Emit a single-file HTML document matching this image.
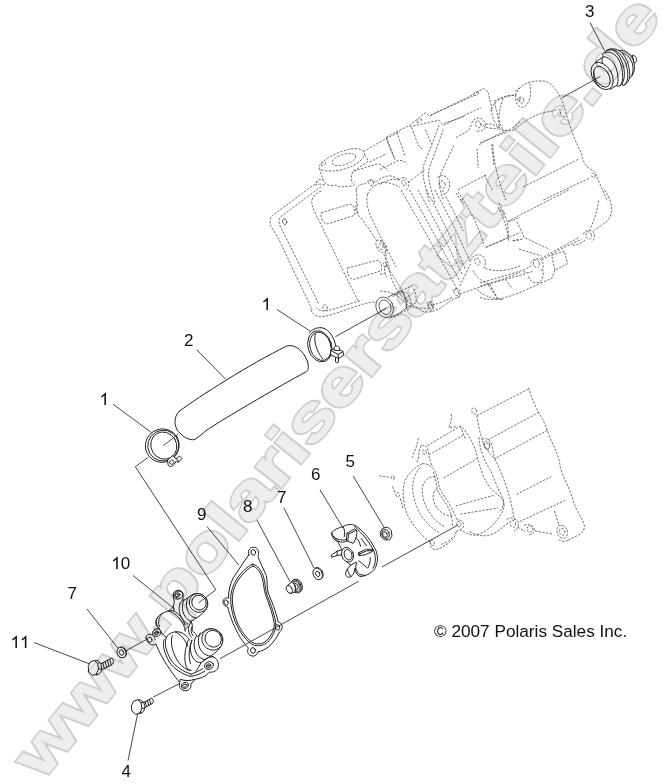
<!DOCTYPE html>
<html><head><meta charset="utf-8"><style>
html,body{margin:0;padding:0;background:#fff;}
svg{display:block;}
text{font-family:"Liberation Sans",sans-serif;}
.lbl{font-size:17px;fill:#111;}
.s{fill:none;stroke:#222;stroke-width:1;stroke-linecap:round;stroke-linejoin:round;}
.sf{fill:#fff;stroke:#222;stroke-width:1;stroke-linecap:round;stroke-linejoin:round;}
.ld{fill:none;stroke:#333;stroke-width:0.9;}
.d{fill:none;stroke:#444;stroke-width:0.75;stroke-dasharray:2.4 1.3;stroke-linecap:butt;stroke-linejoin:round;}
.s,.sf,.d,.t{vector-effect:non-scaling-stroke;}
g.z *{vector-effect:non-scaling-stroke;}
.t{fill:none;stroke:#333;stroke-width:0.8;stroke-linecap:round;stroke-linejoin:round;}
.tf{fill:#fff;stroke:#333;stroke-width:0.8;stroke-linecap:round;stroke-linejoin:round;vector-effect:non-scaling-stroke;}
</style></head>
<body>
<svg width="664" height="784" viewBox="0 0 664 784">
<defs>
<mask id="m1" maskUnits="userSpaceOnUse" x="0" y="0" width="664" height="784">
<g transform="translate(42.2,781.6) rotate(-50.9) scale(1.302,1)"><text x="0" y="0" font-size="62" font-weight="bold" fill="#fff" stroke="#fff" stroke-width="3.6" stroke-linejoin="miter">www.polarisersatzteile.de</text></g>
</mask>
<mask id="m2" maskUnits="userSpaceOnUse" x="0" y="0" width="664" height="784">
<g transform="translate(42.2,781.6) rotate(-50.9) scale(1.302,1)"><text x="0" y="0" font-size="62" font-weight="bold" fill="#fff" stroke="#fff" stroke-width="0.4" stroke-linejoin="miter">www.polarisersatzteile.de</text></g>
</mask>
<path id="one" d="M4.9,0 V-9.5 C4,-8.6 3,-8 1.8,-7.5 V-9 C3.6,-9.8 4.8,-10.9 5.4,-12.2 H6.45 V0 Z"/>
</defs>
<rect width="664" height="784" fill="#fff"/>
<!-- WATERMARK -->
<!-- ENGINE (dashed) -->
<g id="engine-top">
<!-- A: origin (260,130) scale 4.743 -->
<g class="z" transform="translate(260,130) scale(0.21084)">
<path class="d" d="M275,245 L60,405 C45,415 45,440 52,458 C65,478 75,490 100,540 L165,680 L248,853"/>
<path class="d" d="M290,268 L100,410 C88,420 88,440 95,455 L200,664 L280,828"/>
<ellipse class="d" cx="117" cy="434" rx="9" ry="13" transform="rotate(-20 117 434)"/>
<path class="d" d="M290,290 C270,295 250,315 245,335 C245,360 255,385 290,450 L395,670 L466,812"/>
<path class="d" d="M290,392 L425,352 C445,350 455,385 448,405 L322,445 C300,448 285,415 290,392 Z"/>
<path class="d" d="M415,655 L555,618 C575,618 582,650 575,668 L445,708 C425,710 410,680 415,655 Z"/>
<!-- pipe boss -->
<path class="d" d="M280,172 C300,140 360,105 430,90 C460,85 490,90 495,110 C498,130 470,155 440,170 C400,190 340,200 300,192 C285,188 278,182 280,172 Z"/>
<ellipse class="d" cx="398" cy="140" rx="58" ry="24" transform="rotate(-17 398 140)"/>
<ellipse class="d" cx="300" cy="160" rx="12" ry="7" transform="rotate(-25 300 160)"/>
<path class="d" d="M282,182 L300,240 C310,258 330,268 355,262 C365,262 370,270 385,270 L440,265 C448,262 452,255 450,248"/>
<path class="d" d="M496,118 C505,130 512,140 512,150 L445,195 C432,205 430,225 438,255"/>
<path class="d" d="M265,250 C270,238 285,230 300,235 M262,262 C275,255 295,255 310,262"/>
<path class="d" d="M490,102 L600,40 L664,8"/>
<path class="d" d="M520,152 L600,112 M445,195 L560,160 C580,165 595,180 610,195"/>
<path class="d" d="M600,40 C605,60 615,85 628,110 L640,140"/>
<!-- middle gasket -->
<path class="d" d="M455,285 C460,265 475,255 500,255 C510,235 540,230 548,250 C560,235 590,215 620,218 C640,222 655,232 664,236"/>
<ellipse class="d" cx="527" cy="250" rx="11" ry="14" transform="rotate(-20 527 250)"/>
<path class="d" d="M455,285 C462,310 460,340 455,365 C452,385 465,405 482,422 C510,460 540,500 552,525 C545,545 555,575 580,580 C595,600 605,625 612,645"/>
<path class="d" d="M465,350 C455,365 458,385 470,398"/>
<ellipse class="d" cx="573" cy="553" rx="11" ry="14" transform="rotate(-20 573 553)"/>
<path class="d" d="M510,305 C520,280 545,258 575,250 C605,245 640,258 664,272"/>
<path class="d" d="M510,305 C502,335 510,380 530,420 C560,485 600,560 645,650"/>
<path class="d" d="M552,525 C565,515 590,530 600,555 C605,570 600,580 590,585"/>
</g>
<!-- B: origin (380,60) scale 4.743 -->
<g class="z" transform="translate(380,60) scale(0.21084)">
<path class="d" d="M30,365 L140,310 L215,250 L235,265 L440,165 L490,135 L512,150 L530,225 L520,242"/>
<path class="d" d="M140,316 L280,286 L300,310 L480,225"/>
<path class="d" stroke-dasharray="1 1" d="M305,300 L400,268 M240,262 L440,172"/>
<ellipse class="d" cx="185" cy="288" rx="14" ry="6" transform="rotate(-25 185 288)"/>
<ellipse class="d" cx="455" cy="160" rx="14" ry="7" transform="rotate(-25 455 160)"/>
<path class="d" d="M0,520 L75,482 C90,472 110,475 130,492"/>
<path class="d" d="M30,365 L70,470 M80,342 L118,455 M150,320 L180,400 C185,412 195,420 205,422"/>
<path class="d" d="M215,330 L245,400"/>
<path class="d" d="M280,310 C265,350 235,430 212,485 C198,520 205,560 215,600 L235,680"/>
<path class="d" d="M300,330 C285,370 258,450 238,500 C224,535 232,575 242,612 L262,680"/>
<path class="d" d="M350,405 C335,440 305,500 288,540 C272,575 285,620 300,660"/>
<ellipse class="d" cx="296" cy="590" rx="13" ry="18" transform="rotate(-20 296 590)"/>
<path class="d" d="M272,560 C285,540 315,545 328,575 C335,600 325,625 310,632"/>
<ellipse class="d" cx="113" cy="583" rx="9" ry="14" transform="rotate(-20 113 583)"/>
<path class="d" d="M90,570 C100,550 125,555 135,578 C140,595 135,610 125,615"/>
<path class="d" d="M0,590 C30,570 60,560 90,570 M135,580 C160,560 190,540 212,520"/>
<ellipse class="d" cx="466" cy="305" rx="12" ry="17" transform="rotate(-20 466 305)"/>
<path class="d" d="M435,300 C440,280 465,268 485,280 C500,290 505,312 495,328 C485,338 465,340 452,335"/>
<path class="d" d="M360,368 L420,335 L436,305"/>
<path class="d" d="M500,305 C520,300 545,305 560,322 C575,340 605,345 630,320 L664,292"/>
<path class="d" d="M540,195 L600,170 L645,165 M545,200 C550,240 562,290 580,325 M640,150 L664,130"/>
<path class="d" d="M470,402 L560,352 L595,340"/>
<path class="d" stroke-dasharray="5 2" d="M460,420 L466,512 M530,400 L540,500"/>
<path class="d" d="M370,615 L510,542 M360,630 L395,680"/>
<ellipse class="d" cx="658" cy="186" rx="7" ry="9"/>
</g>
<!-- C: origin (480,60) scale 4.743 -->
<g class="z" transform="translate(480,60) scale(0.21084)">
<path class="d" d="M55,235 C58,215 75,195 100,182 C125,172 150,170 170,165 C175,145 200,115 235,105 C265,98 295,98 315,102 C345,115 370,150 392,200 C405,240 418,290 435,335 C450,380 470,420 482,445 C485,470 495,495 512,510 C530,520 548,528 552,550 L605,670"/>
<ellipse class="d" cx="196" cy="190" rx="11" ry="15" transform="rotate(-20 196 190)"/>
<path class="d" d="M170,165 C165,190 172,212 195,225 C215,225 232,205 238,175 C242,150 240,125 235,105"/>
<path class="d" d="M165,330 C200,295 250,265 300,250 C330,243 355,243 372,232"/>
<path class="d" d="M372,232 C385,240 385,255 376,264 C388,262 400,268 402,280 C408,288 415,292 420,292"/>
<path class="d" d="M55,235 C55,270 70,305 95,322 C120,340 145,338 165,330"/>
<path class="d" d="M0,300 C20,320 50,330 90,322 M0,392 L130,342"/>
<path class="d" stroke-dasharray="5 2" d="M60,400 C62,460 80,560 125,670"/>
<path class="d" d="M20,545 L62,622"/>
<path class="d" d="M205,602 L468,470 M300,664 L520,560"/>
<ellipse class="d" cx="538" cy="548" rx="8" ry="10" transform="rotate(-20 538 548)"/>
<path class="d" d="M110,182 C95,220 85,270 92,318"/>
</g>
<!-- D: origin (380,190) scale 4.743 -->
<g class="z" transform="translate(380,190) scale(0.21084)">
<path class="d" d="M100,0 C140,70 210,190 270,300 C310,370 345,430 365,470"/>
<path class="d" d="M140,0 C180,70 245,185 300,290 C335,355 362,400 380,435"/>
<path class="d" d="M180,0 C220,70 280,180 330,280 C355,330 375,370 390,400"/>
<path class="d" d="M220,0 C255,65 310,170 355,265 C375,305 395,350 405,380"/>
<path class="d" d="M260,0 C290,55 335,140 375,225 C400,280 420,320 430,345"/>
<path class="d" d="M295,0 C320,45 360,120 395,195"/>
<path class="d" d="M370,10 C400,50 440,120 465,180 C480,215 488,245 492,265"/>
<path class="d" d="M0,480 C30,478 60,488 85,505 C105,520 120,535 135,548 C160,560 200,560 225,562"/>
<path class="d" d="M250,545 C275,540 310,525 345,508 M378,492 C420,478 480,460 530,440 C580,425 630,405 664,390"/>
<ellipse class="d" cx="238" cy="548" rx="10" ry="14" transform="rotate(-20 238 548)"/>
<path class="d" d="M222,540 C228,525 250,525 255,545 C258,560 250,570 240,572"/>
<ellipse class="d" cx="362" cy="486" rx="10" ry="15" transform="rotate(-20 362 486)"/>
<path class="d" d="M345,480 C350,462 375,462 380,485 C382,500 375,510 365,512"/>
<ellipse class="d" cx="462" cy="340" rx="12" ry="17" transform="rotate(-20 462 340)"/>
<path class="d" d="M430,335 C435,312 465,300 485,312 C502,325 505,350 492,372"/>
<path class="d" d="M500,372 C530,385 580,385 620,375 L664,360"/>
<path class="d" d="M430,350 C415,380 395,420 380,455 M440,382 C455,410 480,435 520,446"/>
<path class="d" d="M520,446 L562,522 M460,470 C480,495 520,515 585,520"/>
<path class="d" d="M560,80 C580,120 602,170 610,240 M612,150 L664,130 M500,272 L600,230 L664,202 M630,242 L664,236"/>
<path class="d" d="M0,240 C20,255 30,285 28,320 C25,345 35,370 58,400 C85,440 110,490 132,525"/>
<ellipse class="d" cx="24" cy="355" rx="8" ry="12" transform="rotate(-20 24 355)"/>
<path class="d" d="M0,400 L22,396"/>
<!-- outlet pipe stub -->
<ellipse class="t" cx="22" cy="556" rx="40" ry="50" transform="rotate(-25 22 556)"/>
<ellipse class="t" cx="24" cy="556" rx="27" ry="36" transform="rotate(-25 24 556)"/>
<path class="t" d="M38,508 L100,478 M52,602 C80,592 105,578 125,560"/>
<path class="t" d="M100,478 C118,498 128,530 125,560"/>
<path class="d" d="M100,478 L150,455 C168,475 175,510 170,535 L125,560"/>
</g>
<!-- F: origin (260,220) scale 3.32 -->
<g class="z" transform="translate(260,220) scale(0.3012)">
<path class="d" d="M168,298 C175,315 190,325 215,320 C250,312 300,292 340,280 C360,274 375,272 388,272"/>
<path class="d" d="M185,290 C195,302 210,305 230,300 C265,290 305,275 335,268"/>
<ellipse class="d" cx="216" cy="291" rx="7" ry="10" transform="rotate(-20 216 291)"/>
<ellipse class="d" cx="82" cy="6" rx="7" ry="10" transform="rotate(-20 82 6)"/>
<path class="d" d="M428,155 C430,185 448,228 468,250"/>
<path class="d" d="M418,150 C410,160 412,178 422,190"/>
<path class="d" d="M468,250 C490,270 520,295 545,305 C575,310 605,290 630,270 L664,252"/>
<ellipse class="d" cx="566" cy="290" rx="8" ry="11" transform="rotate(-20 566 290)"/>
<path class="d" d="M440,255 C455,245 470,240 485,240 M432,325 C455,318 480,305 500,292"/>
<path class="d" d="M485,240 C500,255 505,275 500,292"/>
</g>
<!-- E: origin (480,190) scale 4.743 -->
<g class="z" transform="translate(480,190) scale(0.21084)">
<path class="d" d="M130,150 L420,0"/>
<path class="d" d="M90,60 L130,150 L136,222"/>
<path class="d" d="M30,272 L136,225"/>
<path class="d" d="M590,0 C610,25 625,60 625,100 C620,130 605,150 580,165 C560,178 545,185 538,195"/>
<ellipse class="d" cx="516" cy="215" rx="13" ry="18" transform="rotate(-20 516 215)"/>
<path class="d" d="M490,210 C495,190 525,185 538,200 C548,215 545,235 530,245"/>
<path class="d" d="M440,262 C460,262 485,250 498,238"/>
<path class="d" d="M562,50 C558,90 545,140 520,188"/>
<path class="d" d="M0,440 C60,425 140,400 205,380 C225,372 240,362 250,352"/>
<path class="d" d="M0,456 C60,440 150,415 222,396 M292,332 L400,272 L482,234"/>
<path class="d" d="M288,325 L470,225"/>
<ellipse class="d" cx="268" cy="350" rx="14" ry="19" transform="rotate(-20 268 350)"/>
<path class="d" d="M240,348 C245,325 280,318 295,338 C305,355 300,378 285,385"/>
<path class="d" d="M175,150 L210,225 L330,282 M155,240 L206,232 M185,280 L290,312"/>
<path class="d" d="M340,310 L400,290 L415,350 L355,380 Z M355,380 L340,420 L290,440"/>
<path class="d" d="M230,410 C235,432 255,445 280,438 C298,428 305,400 296,372"/>
<path class="d" d="M205,385 C215,395 235,395 250,385"/>
<path class="d" d="M0,510 C30,520 60,522 85,518 C120,512 160,498 200,482 C235,466 265,452 290,440"/>
<path class="d" d="M40,450 L82,515 M120,425 L152,466"/>
</g>
</g>
<g id="engine-bot">
<!-- zoom origin (370,390) scale 3.32 -->
<g class="z" transform="translate(370,390) scale(0.3012)">
<!-- pump cavity face (moved to separate group) -->
<ellipse class="d" cx="181" cy="206" rx="6" ry="8" transform="rotate(-20 181 206)"/>
<path class="d" d="M170,185 C160,200 165,225 155,240 M170,185 C185,180 195,195 195,215 C198,232 203,245 208,255"/>
<!-- left block -->
<path class="d" d="M190,185 L300,120 C320,135 340,170 352,205 C362,245 372,285 395,320 C415,345 440,355 445,375 C447,400 430,420 415,440 C400,460 370,480 345,482 C325,480 310,470 300,465"/>
<path class="d" d="M196,215 L310,150"/>
<path class="d" d="M245,292 L355,228"/>
<path class="d" d="M285,385 L410,350"/>
<path class="d" d="M300,412 L425,392"/>
<path class="d" d="M300,120 C305,135 312,150 318,165"/>
<path class="d" d="M270,80 C272,95 268,110 262,125 L285,122"/>
<path class="d" d="M160,160 C158,180 150,200 140,225"/>
<path class="d" d="M30,285 L68,290"/>
<ellipse class="d" cx="76" cy="291" rx="5" ry="6"/>
<path class="d" d="M75,320 C78,330 82,340 85,345"/>
<ellipse class="d" cx="92" cy="348" rx="6" ry="7"/>
<path class="d" d="M100,360 C105,375 108,385 110,395"/>
<!-- right block left edge -->
<path class="d" d="M355,85 C358,110 365,140 372,165 C380,195 400,210 418,235 C435,270 450,310 462,350 C470,380 475,410 480,432"/>
<ellipse class="d" cx="346" cy="70" rx="8" ry="11" transform="rotate(-20 346 70)"/>
<ellipse class="d" cx="388" cy="187" rx="8" ry="12" transform="rotate(-20 388 187)"/>
<path class="d" d="M372,165 C385,155 400,165 405,185 C408,200 410,215 418,235"/>
<path class="d" d="M355,85 L530,-5"/>
<path class="d" d="M392,165 L565,72"/>
<path class="d" d="M420,225 L592,132"/>
<path class="d" d="M330,470 C355,485 385,490 415,475 C430,465 445,450 462,440"/>
<ellipse class="d" cx="474" cy="444" rx="9" ry="12" transform="rotate(-20 474 444)"/>
<ellipse class="d" cx="531" cy="462" rx="9" ry="11" transform="rotate(-20 531 462)"/>
<path class="d" d="M455,430 C465,420 485,425 492,440 C495,455 488,465 478,468"/>
<path class="d" d="M512,450 C525,442 545,450 546,465 C545,478 535,482 525,480"/>
<path class="d" d="M490,455 L515,470 M548,468 L605,478"/>
</g>
<!-- pump cavity: origin (390,460) scale 6.64 -->
<g class="z" transform="translate(390,460) scale(0.1506)">
<path class="d" d="M215,25 C175,40 130,80 100,135 C82,190 85,260 100,320 C120,390 170,460 235,520 C250,532 262,540 270,545"/>
<path class="d" d="M215,25 C240,22 265,32 290,60 C310,90 320,140 328,185 C345,220 380,265 408,318 C425,350 438,380 446,402"/>
<path class="d" d="M288,80 C300,110 308,160 315,200 C335,235 368,280 393,328 C408,360 415,395 415,440"/>
<path class="d" d="M200,50 C168,85 150,130 150,185 C152,250 175,320 215,380 C245,420 285,460 325,482"/>
<path class="d" d="M300,110 C260,108 225,135 215,180 C210,230 225,290 255,340 C285,385 325,425 362,442"/>
<path class="d" d="M312,190 C288,205 280,240 292,280 C305,320 340,355 385,370 C400,372 410,370 416,365"/>
<path class="d" d="M270,545 C262,570 275,592 300,596 C330,592 370,565 400,545 C418,530 432,512 440,472"/>
<path class="d" d="M440,472 C460,470 485,460 490,435 C490,412 470,395 446,398"/>
<ellipse class="d" cx="281" cy="550" rx="13" ry="19" transform="rotate(-25 281 550)"/>
<ellipse class="d" cx="457" cy="426" rx="13" ry="19" transform="rotate(-25 457 426)"/>
<path class="d" d="M340,560 C365,555 395,535 415,515"/>
</g>
<!-- zoom origin (464,380) scale 3.32 -->
<g class="z" transform="translate(464,380) scale(0.3012)">
<path class="d" d="M215,25 C220,50 235,85 255,120 C270,145 275,165 285,190 C300,225 315,250 320,290 C330,330 355,365 362,400 C370,430 392,455 400,485 C400,500 390,510 380,515 L345,532"/>
<path class="d" d="M175,380 L290,320"/>
<path class="d" d="M185,470 L335,400"/>
<path class="d" d="M300,435 C305,450 312,470 316,485"/>
<path class="d" d="M50,190 C50,225 65,265 88,300 C100,330 115,365 130,395 C135,410 130,425 115,440"/>
<ellipse class="d" cx="326" cy="504" rx="17" ry="22" transform="rotate(-20 326 504)"/>
<ellipse class="d" cx="326" cy="504" rx="9" ry="12" transform="rotate(-20 326 504)"/>
<path class="d" d="M345,532 C335,540 320,535 312,528"/>
<ellipse class="d" cx="76" cy="216" rx="9" ry="13" transform="rotate(-20 76 216)"/>
</g>
</g>
<!-- PARTS -->
<g id="parts">
<!-- hose 2 -->
<path class="sf" d="M179.7,410.9 C200,396 250,364 286.6,346.1 C296,343.5 304,352 307.7,362 C309,368 308,371 306.2,371.7 C280,386 235,412 208.3,429 C203,433 199,437 194.8,439.5 C189,441 181,436 176.7,429 C173.5,422 175,415 179.7,410.9 Z"/>
<!-- left clamp -->
<g id="clampL">
<ellipse class="s" cx="162.3" cy="445.6" rx="17" ry="16.6" transform="rotate(-30 162.3 445.6)"/>
<ellipse class="s" cx="163.3" cy="445.6" rx="15.6" ry="15.4" transform="rotate(-30 163.3 445.6)"/>
<ellipse class="s" cx="163.8" cy="445.6" rx="12.8" ry="13.9" transform="rotate(-30 163.8 445.6)"/>
<path class="sf" d="M168,459.5 L173,455.5 L176,459 L179.5,456 L182,458.5 L178,462.5 L176.5,461 L174,464.5 C172,467.5 168.5,467 168,464.5 Z"/>
<path class="s" d="M170,461.5 C171,459.5 173.5,459.5 174,461.5 C174,464 171,465.5 170,463.5 Z"/>
<path class="s" d="M176.3,458.2 L178.6,461.8"/>
</g>
<!-- right clamp -->
<g id="clampR">
<path class="s" d="M309.5,332.5 C313,328.5 318,327 323,328 C329,329.5 334,337 335.8,346"/>
<ellipse class="s" cx="319.8" cy="346.3" rx="11.8" ry="15.9" transform="rotate(-17 319.8 346.3)"/>
<ellipse class="s" cx="320.4" cy="346.3" rx="10.4" ry="14.5" transform="rotate(-17 320.4 346.3)"/>
<path class="s" d="M315.3,334 C313.8,340 315.5,350 322.7,358.8"/>
<path class="sf" d="M331,350.5 L336,347.5 L343,351.5 L343.5,355.5 L338.5,358.5 L331,355 Z"/>
<path class="s" d="M331,350.5 L338,354.5 L343,351.5 M338,354.5 L338.5,358.5"/>
<path class="sf" d="M334,347.5 C334,345.5 339,345.5 339.5,347.8 L339.5,350.5 L334.5,350.3 Z"/>
<path class="s" d="M335.5,358 L335.5,362 C336.5,363 338,363 338.5,362 L338.5,358.5"/>
</g>

<!-- housing 10 : coords from zoom origin (140,580) scale 6.64 -->
<g id="housing" class="z" transform="translate(140,580) scale(0.1506)">
<!-- flange silhouette -->
<path class="sf" d="M40,385 C35,360 70,355 85,365 C80,340 95,320 130,325 C95,290 100,255 140,225 C170,210 200,200 225,205 L222,175 L228,150 L222,112 C215,80 260,60 282,85 C290,95 288,120 282,135 L300,130 L335,105 C370,75 440,90 450,150 C452,190 430,215 385,245 L340,275 C350,300 350,320 345,335 C360,345 370,360 380,375 L420,345 C450,305 540,320 550,390 C552,430 530,460 490,490 L470,505 C500,510 525,535 520,575 C515,600 490,615 460,612 C440,640 400,655 350,662 L330,690 L270,690 C230,640 170,560 130,480 L105,425 C85,440 50,430 40,385 Z"/>
<!-- upper lug -->
<ellipse class="s" cx="252" cy="97" rx="33" ry="29" transform="rotate(-20 252 97)"/>
<ellipse class="s" cx="248" cy="100" rx="18" ry="15" transform="rotate(-20 248 100)"/>
<ellipse class="s" cx="245" cy="102" rx="10" ry="8.5" transform="rotate(-20 245 102)"/>
<path class="s" d="M222,175 C215,185 205,190 195,203 M282,135 C278,145 272,150 262,158"/>
<!-- upper tube -->
<path class="s" d="M318,118 C300,150 308,200 330,228 C345,245 360,252 375,252"/>
<path class="s" d="M292,135 C274,165 280,215 300,243 C312,260 328,272 340,275"/>
<path class="s" d="M268,152 C254,180 258,225 280,255 C292,272 305,285 318,292"/>
<ellipse class="sf" cx="388" cy="152" rx="60" ry="64" transform="rotate(-35 388 152)"/>
<ellipse class="s" cx="392" cy="150" rx="47" ry="50" transform="rotate(-35 392 150)"/>
<!-- left cylinder body -->
<path class="s" d="M130,325 C100,300 95,270 125,240"/>
<path class="s" d="M190,205 C225,215 262,245 285,290 C295,310 300,325 300,340"/>
<path class="s" d="M225,205 C255,220 285,255 300,300"/>
<path class="s" d="M150,222 C125,245 115,280 130,310"/>
<path class="s" d="M340,275 L328,301 L297,331 M325,307 C318,325 322,355 340,379 M343,313 C336,330 338,352 352,370"/>
<!-- left lug hole and washer-lug -->
<ellipse class="sf" cx="112" cy="350" rx="28" ry="24" transform="rotate(-25 112 350)"/>
<ellipse class="s" cx="110" cy="352" rx="15" ry="12" transform="rotate(-25 110 352)"/>
<ellipse class="s" cx="108" cy="353" rx="8" ry="6.5" transform="rotate(-25 108 353)"/>
<ellipse class="s" cx="65" cy="397" rx="14" ry="17" transform="rotate(-25 65 397)"/>
<path class="s" d="M85,365 C95,375 100,385 100,395 M140,345 C150,360 160,370 175,380"/>
<!-- volute body -->
<path class="s" d="M175,380 C190,355 225,338 260,345 C290,352 315,375 330,400"/>
<path class="s" d="M175,380 C160,415 170,470 205,530 C235,575 285,608 340,625"/>
<path class="s" d="M160,395 C148,430 160,485 195,545 C225,590 280,625 335,640"/>
<path class="s" d="M215,370 C200,405 210,465 245,530 C270,570 300,592 330,600"/>
<path class="s" d="M235,345 C270,360 300,395 318,440"/>
<path class="s" d="M320,400 C300,450 290,520 305,570 C312,590 325,600 340,600"/>
<path class="s" d="M345,400 C325,450 320,510 335,555"/>
<!-- lower tube -->
<path class="s" d="M400,352 C378,390 385,450 415,480 C430,495 450,505 465,505"/>
<path class="s" d="M372,375 C350,415 358,475 388,505 C403,520 420,528 435,528"/>
<path class="s" d="M345,400 C325,440 333,500 362,530 C375,545 390,550 405,548"/>
<path class="s" d="M435,528 L470,505 M405,548 L435,528"/>
<ellipse class="sf" cx="480" cy="395" rx="68" ry="73" transform="rotate(-35 480 395)"/>
<ellipse class="s" cx="486" cy="390" rx="53" ry="57" transform="rotate(-35 486 390)"/>
<!-- right-bottom lug -->
<path class="s" d="M405,548 C395,570 385,590 370,605 M420,535 C440,520 465,505 490,512"/>
<ellipse class="s" cx="458" cy="568" rx="30" ry="25" transform="rotate(-25 458 568)"/>
<ellipse class="s" cx="455" cy="570" rx="16" ry="13" transform="rotate(-25 455 570)"/>
<ellipse class="s" cx="453" cy="571" rx="9" ry="7" transform="rotate(-25 453 571)"/>
<path class="s" d="M340,625 C365,615 390,605 415,590 M335,640 C370,635 400,625 430,605"/>
<!-- bottom lug -->
<ellipse class="s" cx="296" cy="694" rx="30" ry="25" transform="rotate(-25 296 694)"/>
<ellipse class="s" cx="293" cy="696" rx="16" ry="13" transform="rotate(-25 293 696)"/>
<path class="sf" d="M262,690 C255,715 275,735 305,735 C335,730 345,705 335,690 C350,680 360,670 365,660 C340,668 300,672 270,660 Z"/>
<ellipse class="s" cx="298" cy="700" rx="24" ry="20" transform="rotate(-25 298 700)"/>
<ellipse class="s" cx="296" cy="702" rx="13" ry="10" transform="rotate(-25 296 702)"/>
</g>
<!-- gasket 9 : zoom origin (200,530) scale 6.036 -->
<g id="gasket" class="z" transform="translate(200,530) scale(0.16567)">
<path class="sf" d="M295,150 C285,120 305,100 330,105 C352,110 358,135 350,160 C360,190 385,240 400,275 C408,310 402,345 412,380 C430,425 455,480 472,555 C500,560 505,600 480,615 C465,650 440,680 415,705 C395,720 375,730 350,735 C345,760 320,768 300,755 C285,745 285,725 292,712 C260,680 225,625 200,565 C185,525 172,490 168,465 C140,460 130,430 148,415 C158,408 165,408 172,412 C172,370 180,330 200,290 C230,245 265,190 295,150 Z"/>
<path class="s" d="M320,218 C345,225 365,255 375,290 C385,325 385,355 395,390 C410,430 435,490 448,560 C452,600 430,640 400,670 C380,685 355,692 330,685 C290,670 245,610 220,545 C205,505 195,460 195,410 C198,350 225,300 270,255 C290,235 305,222 320,218 Z"/>
<path class="s" d="M318,206 C348,212 372,245 384,285 C394,322 393,352 403,387 C418,428 444,488 457,558 C461,603 438,648 406,679 C384,696 355,703 328,696 C284,680 237,616 211,549 C195,508 185,460 185,410 C188,346 216,294 262,247 C283,226 302,210 318,206 Z"/>
<ellipse class="s" cx="322" cy="135" rx="14" ry="17" transform="rotate(-20 322 135)"/>
<ellipse class="s" cx="158" cy="438" rx="12" ry="16" transform="rotate(-20 158 438)"/>
<ellipse class="s" cx="468" cy="588" rx="13" ry="17" transform="rotate(-20 468 588)"/>
<ellipse class="s" cx="320" cy="727" rx="15" ry="17" transform="rotate(-20 320 727)"/>
</g>

<!-- bolts 11, 4 and washer 7: zoom origin (80,630) scale 7.378 -->
<g id="bolts" class="z" transform="translate(80,630) scale(0.13554)">
<!-- bolt 11 -->
<path class="sf" d="M150,252 L232,208 C245,205 252,240 240,252 L160,296 Z"/>
<path class="s" d="M168,243 L181,286 M185,234 L198,277 M202,225 L215,268 M219,216 L231,258"/>
<path class="sf" d="M105,225 C135,215 160,245 160,280 C160,310 145,330 120,332 Z"/>
<path class="sf" d="M62,268 L75,236 L105,225 L130,246 L136,290 L121,325 L90,336 L66,312 Z"/>
<path class="s" d="M130,246 L146,240 M136,290 L158,285 M121,325 L135,328"/>
<!-- bolt 4 -->
<path class="sf" d="M462,540 L526,504 C540,502 546,530 536,540 L472,577 Z"/>
<path class="s" d="M480,530 L492,566 M496,521 L508,557 M512,512 L523,548"/>
<path class="sf" d="M425,515 C455,508 478,535 478,570 C478,598 462,612 440,614 Z"/>
<path class="sf" d="M380,556 L394,526 L425,515 L451,536 L456,580 L441,613 L410,622 L385,599 Z"/>
<path class="s" d="M451,536 L466,531 M456,580 L476,576 M441,613 L455,612"/>
<!-- washer 7 left -->
<ellipse class="sf" cx="310" cy="164" rx="32" ry="40" transform="rotate(-25 310 164)"/>
<ellipse class="sf" cx="306" cy="166" rx="32" ry="40" transform="rotate(-25 306 166)"/>
<ellipse class="s" cx="306" cy="166" rx="16" ry="21" transform="rotate(-25 306 166)"/>
</g>
<!-- washer 7 right and plug 8: zoom origin (275,550) scale 11.07 -->
<g id="w7p8" class="z" transform="translate(275,550) scale(0.09036)">
<ellipse class="sf" cx="480" cy="260" rx="50" ry="68" transform="rotate(-25 480 260)"/>
<ellipse class="sf" cx="473" cy="264" rx="50" ry="68" transform="rotate(-25 473 264)"/>
<ellipse class="s" cx="473" cy="264" rx="22" ry="31" transform="rotate(-25 473 264)"/>
<!-- plug 8 -->
<ellipse class="sf" cx="245" cy="395" rx="55" ry="76" transform="rotate(-25 245 395)"/>
<ellipse class="sf" cx="232" cy="402" rx="55" ry="76" transform="rotate(-25 232 402)"/>
<ellipse class="s" cx="232" cy="402" rx="43" ry="60" transform="rotate(-25 232 402)"/>
<ellipse class="s" cx="226" cy="404" rx="28" ry="40" transform="rotate(-25 226 404)"/>
<path class="sf" d="M138,392 L188,352 C220,360 240,420 225,462 L172,482 Z"/>
<ellipse class="sf" cx="158" cy="436" rx="30" ry="46" transform="rotate(-25 158 436)"/>
<path class="s" d="M200,365 C222,385 232,425 222,455"/>
</g>
<!-- impeller 6 and nut 5: zoom origin (325,515) scale 8.3 -->
<g id="imp" class="z" transform="translate(325,515) scale(0.12048)">
<path class="sf" d="M55,150 C70,125 110,105 155,95 C190,70 240,75 270,100 C330,145 385,215 425,300 C445,360 435,420 405,455 C380,485 335,510 290,510 C265,500 250,470 250,440 L240,480 C225,515 195,525 180,510 C165,495 170,470 185,450 L215,415 C190,400 165,380 150,350 L135,330 L100,337 L55,350 L50,335 L100,300 L140,290 C125,260 115,240 110,222 C85,215 55,190 55,150 Z"/>
<path class="s" d="M245,95 C310,150 370,225 408,305 C425,360 420,410 398,440"/>
<path class="s" d="M55,150 C65,185 95,215 130,225 C150,228 170,222 180,215"/>
<path class="s" d="M68,175 C90,200 130,215 175,205"/>
<path class="s" d="M185,150 L245,115 L265,130 C265,160 258,200 235,235 L180,215 Z"/>
<path class="s" d="M185,150 L195,160 L255,128 M195,160 L190,212"/>
<path class="s" d="M150,95 C160,120 170,150 160,180"/>
<path class="s" d="M280,312 L345,285 L400,285 L395,302 L335,330 L285,337 Z"/>
<path class="s" d="M280,312 L290,322 L345,298 L398,296 M290,322 L285,337"/>
<path class="s" d="M300,195 L345,255 M260,190 C275,200 290,230 295,260"/>
<path class="s" d="M375,355 C378,385 370,415 355,440 M280,380 C300,395 325,415 345,435"/>
<path class="s" d="M265,395 C245,425 255,470 290,495 L330,500"/>
<path class="s" d="M215,415 L260,392 M185,450 C190,470 200,490 215,512"/>
<ellipse class="sf" cx="187" cy="330" rx="48" ry="63" transform="rotate(-22 187 330)"/>
<ellipse class="s" cx="192" cy="330" rx="31" ry="45" transform="rotate(-22 192 330)"/>
<path class="s" d="M100,300 L100,337"/>
<!-- nut 5 -->
<path class="sf" stroke-width="1.4" d="M460,142 L480,110 L520,100 L550,130 L556,175 L536,206 L496,207 L466,181 Z"/>
<ellipse class="s" stroke-width="1.3" cx="503" cy="158" rx="30" ry="38" transform="rotate(-25 503 158)"/>
<ellipse class="s" stroke-width="1.2" cx="498" cy="162" rx="18" ry="25" transform="rotate(-25 498 162)"/>
</g>
<!-- thermostat 3 -->
<g id="thermo" class="z" transform="translate(575,30) scale(0.10542)">
<path class="sf" d="M545,238 C565,235 585,260 585,290 C583,305 575,312 565,312 Z"/>
<path class="sf" d="M420,195 C450,185 500,205 540,260 C565,310 570,370 555,405 C545,435 530,452 515,460 L450,300 Z"/>
<path class="s" d="M440,215 C480,215 525,260 545,320 C555,360 552,400 540,430"/>
<path class="sf" d="M300,192 C330,172 390,170 440,210 C485,255 515,330 520,420 C520,470 500,510 455,527 L400,400 Z"/>
<path class="s" d="M330,185 C375,180 430,215 470,290 C500,355 508,430 495,480 C488,500 478,512 468,520"/>
<path class="sf" d="M262,228 C280,200 320,185 355,188 C410,215 450,290 465,370 C475,440 465,500 425,530 C415,535 405,535 398,530 L340,380 Z"/>
<path class="s" d="M285,215 C320,200 365,215 405,265 C440,315 455,390 452,450 C450,490 440,515 425,530"/>
<path class="sf" d="M195,305 L265,255 C310,250 360,290 390,360 C410,420 415,480 400,522 L335,562 Z"/>
<path class="s" d="M265,255 C250,275 255,300 262,318"/>
<ellipse class="sf" cx="258" cy="436" rx="92" ry="140" transform="rotate(-30 258 436)"/>
<path class="s" d="M178,395 C168,440 190,510 240,545"/>
<ellipse class="s" cx="256" cy="442" rx="66" ry="108" transform="rotate(-30 256 442)"/>
</g>
</g>
<!-- assembly lines -->
<g class="ld">
<path d="M386.5,308.2 L335.3,336.8"/>
<path d="M163.2,445.6 L178.5,434"/>
<path d="M148.4,457.2 L135.3,466.7 L215.9,589.8 L198.5,602.9"/>
<path d="M153.2,697.1 L180,683.3"/>
<path d="M219.9,658.8 L358.6,581.3"/>
<path d="M382,567 L458,525"/>
<path d="M126.8,650.3 L146.4,639.5"/>
<path d="M600.3,76.4 L562,97.8"/>
</g>
<!-- LEADERS -->
<g id="leaders" class="ld">
<line x1="590" y1="22.6" x2="604.5" y2="50.6"/>
<line x1="277" y1="309.5" x2="310" y2="331"/>
<line x1="196.6" y1="349.6" x2="225.8" y2="379.4"/>
<line x1="113.1" y1="404.3" x2="151.4" y2="432.5"/>
<line x1="353.2" y1="476.1" x2="384.5" y2="528"/>
<line x1="320" y1="489.7" x2="343" y2="528"/>
<line x1="283.9" y1="507.8" x2="314" y2="568"/>
<line x1="256.8" y1="519.8" x2="290" y2="581.6"/>
<line x1="207" y1="526.5" x2="238.8" y2="565"/>
<line x1="133" y1="575.5" x2="174.8" y2="609.2"/>
<line x1="87" y1="609" x2="118" y2="648.3"/>
<line x1="34" y1="642.5" x2="89.5" y2="663.9"/>
<line x1="137.6" y1="714.1" x2="128" y2="760.5"/>
</g>
<!-- LABELS -->
<g id="labels" class="lbl">
<text x="585" y="17">3</text>
<use href="#one" x="261.5" y="310" fill="#111"/>
<text x="184" y="346">2</text>
<use href="#one" x="99.5" y="405" fill="#111"/>
<text x="345.5" y="466.5">5</text>
<text x="311" y="480">6</text>
<text x="277" y="503">7</text>
<text x="243" y="512">8</text>
<text x="197" y="519.5">9</text>
<use href="#one" x="111.3" y="569" fill="#111"/><text x="120.75" y="569">0</text>
<text x="67.5" y="598.5">7</text>
<use href="#one" x="10.5" y="648" fill="#111"/><use href="#one" x="19.95" y="648" fill="#111"/>
<text x="121.4" y="777">4</text>
<text x="434" y="637" font-size="17.2">© 2007 Polaris Sales Inc.</text>
</g>
<g id="wm" style="mix-blend-mode:multiply">
<rect width="664" height="784" fill="#cecece" mask="url(#m1)"/>
<rect width="664" height="784" fill="#eeeeee" mask="url(#m2)"/>
</g>
</svg>
</body></html>
